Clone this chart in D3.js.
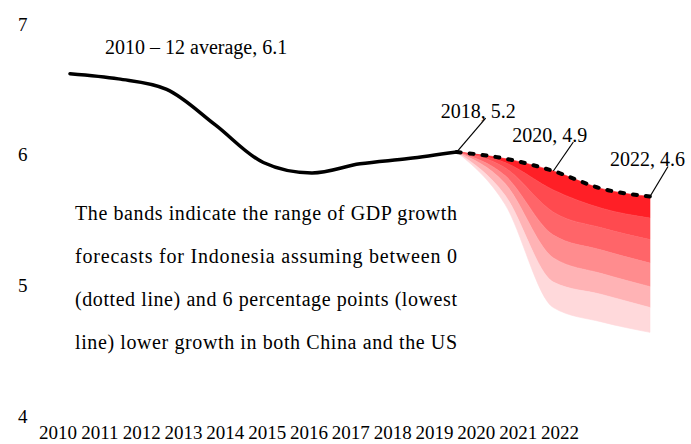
<!DOCTYPE html>
<html>
<head>
<meta charset="utf-8">
<script src="https://cdn.jsdelivr.net/npm/d3@7"></script>
<style>
  body { margin: 0; background: #fff; }
</style>
</head>
<body>
<div id="chart-area"></div>
<script>

// Data
var years = [2010, 2011, 2012, 2013, 2014, 2015, 2016, 2017, 2018];
var growth = [6.62, 6.58, 6.50, 6.23, 5.94, 5.86, 5.93, 5.97, 6.02];

var forecastYears = [2018, 2019, 2020, 2021, 2022];
var baseline = [6.02, 5.97, 5.875, 5.74, 5.68];
// one line per percentage point of lower growth (1 .. 6)
var shock1 = [6.02, 5.94, 5.73, 5.59, 5.515];
var shock2 = [6.02, 5.90, 5.56, 5.44, 5.35];
var shock3 = [6.02, 5.84, 5.385, 5.27, 5.17];
var shock4 = [6.02, 5.78, 5.21, 5.09, 4.99];
var shock5 = [6.02, 5.69, 5.025, 4.93, 4.83];
var shock6 = [6.02, 5.62, 4.83, 4.72, 4.64];

var bandColors = ["#ff1f26", "#ff4a4f", "#ff6569", "#ff8c8e", "#ffb3b5", "#ffd9db"];

var yTicks = [4, 5, 6, 7];
var yearLabels = ["2010", "2011", "2012", "2013", "2014", "2015", "2016",
                  "2017", "2018", "2019", "2020", "2021", "2022"];

var annoYears = [2018, 2020, 2022];
var annoText = ["2018, 5.2", "2020, 4.9", "2022, 4.6"];
var titleNote = "2010 \u2013 12 average, 6.1";

var noteLines = [
    "The bands indicate the range of GDP growth",
    "forecasts for Indonesia assuming between 0",
    "(dotted line) and 6 percentage points (lowest",
    "line) lower growth in both China and the US"
];

var width = 691, height = 444;
var serif = "'Liberation Serif', 'Times New Roman', Times, 'DejaVu Serif', serif";

var svg = d3.select("#chart-area").append("svg")
    .attr("width", width)
    .attr("height", height)
    .attr("font-family", serif);

svg.append("rect")
    .attr("width", width)
    .attr("height", height)
    .attr("fill", "#fff");

// Scales
var x = d3.scaleLinear().domain([2010, 2022]).range([70, 650]);
var y = d3.scaleLinear().domain([4, 7]).range([416, 24]);
var xLabel = d3.scalePoint().domain(yearLabels).range([58, 560]);

// Y labels
svg.append("g").selectAll("text")
    .data(yTicks)
    .enter().append("text")
    .attr("x", 18)
    .attr("y", function(d) { return y(d); })
    .attr("dy", "0.35em")
    .attr("font-size", "19px")
    .text(function(d) { return d; });

// Year labels
svg.append("g").selectAll("text")
    .data(yearLabels)
    .enter().append("text")
    .attr("x", function(d) { return xLabel(d); })
    .attr("y", 439)
    .attr("text-anchor", "middle")
    .attr("font-size", "19px")
    .text(function(d) { return d; });

// Bands
var shocks = [baseline, shock1, shock2, shock3, shock4, shock5, shock6];
var bands = d3.range(6).map(function(i) {
    return forecastYears.map(function(yr, j) {
        return { year: yr, top: shocks[i][j], bottom: shocks[i + 1][j] };
    });
});

var area = d3.area()
    .curve(d3.curveMonotoneX)
    .x(function(d) { return x(d.year); })
    .y0(function(d) { return y(d.bottom); })
    .y1(function(d) { return y(d.top); });

svg.append("g").selectAll("path")
    .data(bands)
    .enter().append("path")
    .attr("fill", function(d, i) { return bandColors[i]; })
    .attr("stroke", function(d, i) { return bandColors[i]; })
    .attr("stroke-width", 0.6)
    .attr("d", area);

// History line
var line = d3.line()
    .x(function(d) { return x(d[0]); })
    .y(function(d) { return y(d[1]); });

svg.append("path")
    .datum(d3.zip(years, growth))
    .attr("fill", "none")
    .attr("stroke", "#000")
    .attr("stroke-width", 3.5)
    .attr("stroke-linecap", "round")
    .attr("stroke-linejoin", "round")
    .attr("d", line.curve(d3.curveCatmullRom.alpha(0.5)));

// Baseline forecast, dotted
svg.append("path")
    .datum(d3.zip(forecastYears, baseline))
    .attr("fill", "none")
    .attr("stroke", "#000")
    .attr("stroke-width", 4)
    .attr("stroke-linecap", "round")
    .attr("stroke-dasharray", "4,9")
    .attr("d", line.curve(d3.curveMonotoneX));

// Annotations
var offsets = [[29, -34, -16], [20, -29, -41], [18, -30, -40]];
annoYears.forEach(function(yr, i) {
    var v = yr === 2018 ? growth[years.indexOf(yr)] : baseline[forecastYears.indexOf(yr)];
    var px = x(yr), py = y(v);
    svg.append("line")
        .attr("x1", px).attr("y1", py)
        .attr("x2", px + offsets[i][0]).attr("y2", py + offsets[i][1])
        .attr("stroke", "#000")
        .attr("stroke-width", 1.2);
    svg.append("text")
        .attr("x", px + offsets[i][2])
        .attr("y", py + offsets[i][1])
        .attr("font-size", "20px")
        .text(annoText[i]);
});

svg.append("text")
    .attr("x", 105)
    .attr("y", 54)
    .attr("font-size", "20px")
    .text(titleNote);

// Note text
svg.append("g").selectAll("text")
    .data(noteLines)
    .enter().append("text")
    .attr("x", 75)
    .attr("y", function(d, i) { return 220 + i * 43; })
    .attr("font-size", "20px")
    .attr("textLength", 382)
    .attr("lengthAdjust", "spacing")
    .text(function(d) { return d; });

</script>
</body>
</html>
